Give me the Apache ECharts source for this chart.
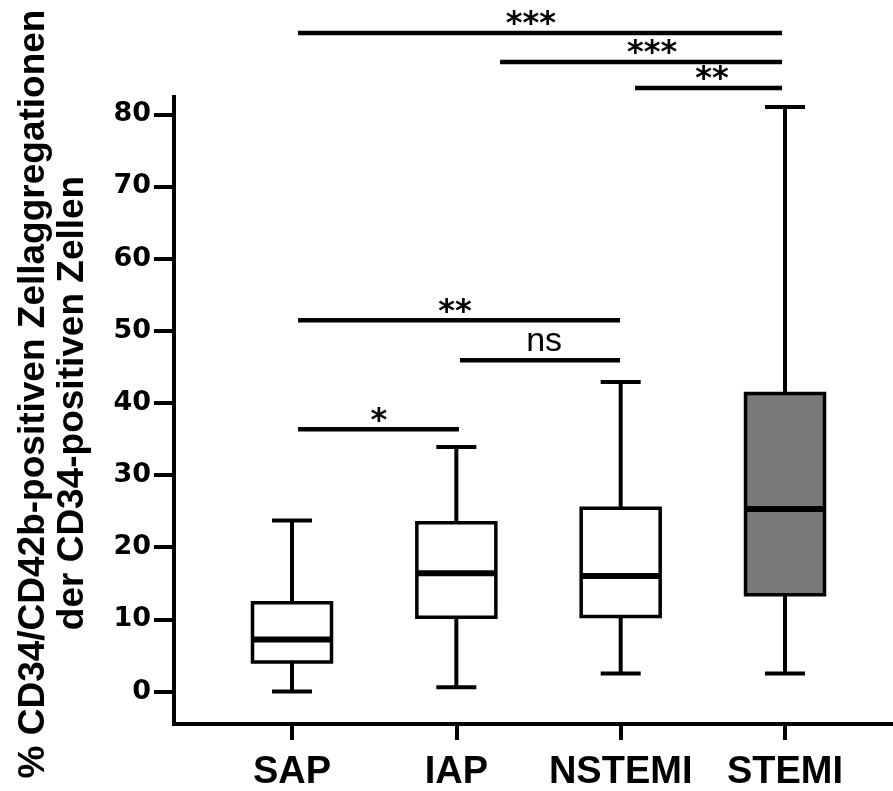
<!DOCTYPE html>
<html>
<head>
<meta charset="utf-8">
<script src="https://cdn.jsdelivr.net/npm/echarts@6/dist/echarts.min.js"></script>
<style>
html,body{margin:0;padding:0;background:#fff;}
#chart{width:893px;height:791px;}
</style>
</head>
<body>
<div id="chart"></div>
<script>
// ---- data ----
const categories = ['SAP', 'IAP', 'NSTEMI', 'STEMI'];
const whiskerLow  = [0,    0.6,  2.5,  2.5];
const quartile1   = [4.1,  10.3, 10.4, 13.4];
const medians     = [7.2,  16.4, 16.0, 25.3];
const quartile3   = [12.3, 23.4, 25.4, 41.3];
const whiskerHigh = [23.7, 33.9, 42.9, 81.0];
const yTicks = [0, 10, 20, 30, 40, 50, 60, 70, 80];
// significance brackets: start (category units), end, height (y value), label x, label
const bracketStart = [0.037, 1.266, 2.087, 0.037, 1.022, 0.037];
const bracketEnd   = [2.982, 2.982, 2.982, 1.996, 1.996, 1.016];
const bracketY     = [91.27, 87.25, 83.65, 51.46, 45.91, 36.35];
const bracketLabX  = [1.454, 2.191, 2.556, 0.992, 1.534, 0.529];
const bracketLabel = ['***', '***', '**', '**', 'ns', '*'];

// ---- styles ----
const boxFill = ['#ffffff', '#ffffff', '#ffffff', '#797979'];

const boxData = categories.map((c, i) => [i, whiskerLow[i], quartile1[i], medians[i], quartile3[i], whiskerHigh[i]]);
const bracketData = bracketStart.map((s, i) => [s, bracketEnd[i], bracketY[i], bracketLabX[i]]);

const chart = echarts.init(document.getElementById('chart'), null, {renderer: 'canvas'});

const option = {
  backgroundColor: '#ffffff',
  animation: false,
  grid: {left: 174, right: 0, top: 97, bottom: 67, containLabel: false, outerBoundsMode: 'none'},
  xAxis: {
    type: 'value',
    min: -0.718, max: 3.657,
    axisLine: {onZero: false, lineStyle: {color: '#000', width: 4}},
    axisTick: {show: true, length: 16, lineStyle: {color: '#000', width: 4}, customValues: [0, 1, 2, 3]},
    axisLabel: {
      customValues: [0, 1, 2, 3],
      formatter: v => categories[Math.round(v)],
      color: '#000', fontSize: 38, fontWeight: 'bold', fontFamily: 'Liberation Sans', margin: 30
    },
    splitLine: {show: false}
  },
  yAxis: {
    type: 'value',
    min: -4.5, max: 82.4,
    axisLine: {show: true, onZero: false, lineStyle: {color: '#000', width: 4, cap: 'square'}},
    axisTick: {show: true, length: 20, lineStyle: {color: '#000', width: 4}, customValues: yTicks},
    axisLabel: {
      customValues: yTicks,
      color: '#000', fontSize: 27, fontWeight: 'bold', fontFamily: 'DejaVu Sans', margin: 23
    },
    splitLine: {show: false}
  },
  graphic: [
    {type: 'text', x: 34, y: 394, rotation: Math.PI / 2,
     style: {text: '% CD34/CD42b-positiven Zellaggregationen', fontSize: 37, fontWeight: 'bold', fontFamily: 'Liberation Sans', fill: '#000', align: 'center', verticalAlign: 'middle'}},
    {type: 'text', x: 73, y: 403, rotation: Math.PI / 2,
     style: {text: 'der CD34-positiven Zellen', fontSize: 37, fontWeight: 'bold', fontFamily: 'Liberation Sans', fill: '#000', align: 'center', verticalAlign: 'middle'}}
  ],
  series: [
    {
      type: 'custom',
      name: 'box',
      clip: false,
      data: boxData,
      encode: {x: 0, y: [1, 2, 3, 4, 5]},
      renderItem: function (params, api) {
        const i = api.value(0);
        const pMin = api.coord([i, api.value(1)]);
        const pQ1 = api.coord([i, api.value(2)]);
        const pMed = api.coord([i, api.value(3)]);
        const pQ3 = api.coord([i, api.value(4)]);
        const pMax = api.coord([i, api.value(5)]);
        const cx = pMin[0];
        const bw = 79, cw = 40;
        const ls = {stroke: '#000', lineWidth: 4};
        return {
          type: 'group',
          children: [
            {type: 'line', shape: {x1: cx, y1: pMin[1], x2: cx, y2: pQ1[1]}, style: ls},
            {type: 'line', shape: {x1: cx, y1: pQ3[1], x2: cx, y2: pMax[1]}, style: ls},
            {type: 'line', shape: {x1: cx - cw / 2, y1: pMin[1], x2: cx + cw / 2, y2: pMin[1]}, style: ls},
            {type: 'line', shape: {x1: cx - cw / 2, y1: pMax[1], x2: cx + cw / 2, y2: pMax[1]}, style: ls},
            {type: 'rect', shape: {x: cx - bw / 2, y: pQ3[1], width: bw, height: pQ1[1] - pQ3[1]},
             style: {fill: boxFill[params.dataIndex], stroke: '#000', lineWidth: 3.5}},
            {type: 'line', shape: {x1: cx - bw / 2, y1: pMed[1], x2: cx + bw / 2, y2: pMed[1]}, style: {stroke: '#000', lineWidth: 6}}
          ]
        };
      }
    },
    {
      type: 'custom',
      name: 'brackets',
      clip: false,
      data: bracketData,
      encode: {x: [0, 1, 3], y: 2},
      renderItem: function (params, api) {
        const p1 = api.coord([api.value(0), api.value(2)]);
        const p2 = api.coord([api.value(1), api.value(2)]);
        const pl = api.coord([api.value(3), api.value(2)]);
        const lab = bracketLabel[params.dataIndex];
        const isNs = lab === 'ns';
        return {
          type: 'group',
          children: [
            {type: 'line', shape: {x1: p1[0], y1: p1[1], x2: p2[0], y2: p2[1]}, style: {stroke: '#000', lineWidth: 4.5}},
            {type: 'text', x: pl[0], y: p1[1] - (isNs ? 19 : 8),
             style: isNs
               ? {text: lab, fontSize: 34, fontFamily: 'Liberation Sans', fill: '#000', align: 'center', verticalAlign: 'middle'}
               : {text: lab, fontSize: 32, fontWeight: 'bold', fontFamily: 'DejaVu Sans', fill: '#000', align: 'center', verticalAlign: 'middle'}}
          ]
        };
      }
    }
  ]
};
chart.setOption(option);
</script>
</body>
</html>
